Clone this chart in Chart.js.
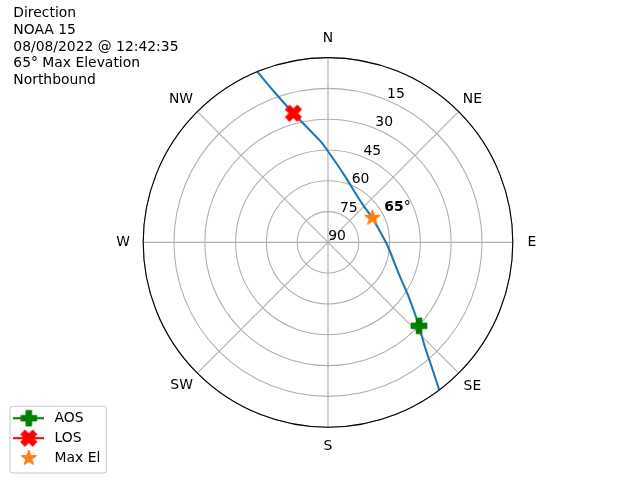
<!DOCTYPE html>
<html>
<head>
<meta charset="utf-8">
<script src="https://cdn.jsdelivr.net/npm/chart.js@4"></script>
<style>
  html, body { margin: 0; background: #fff; }
  #wrap { width: 640px; height: 480px; }
</style>
</head>
<body>
<div id="wrap"><canvas id="passChart"></canvas></div>
<script>
// Pass track: azimuth (deg, clockwise from N) and elevation (deg)
const trackAz = [337.3, 340.4, 344.8, 355.3, 0, 14.1, 33.7, 46.1, 61.2, 75.2, 93.2, 114.9, 123.7, 132.5, 136.9, 140.6, 143.1];
const trackEl = [0, 12.7, 24.9, 40.3, 45.6, 56.5, 63.6, 65.3, 65.3, 64.5, 61.0, 51.5, 43.2, 29.9, 21.0, 10.1, 0];
const aos = [132.5, 29.9];
const los = [344.8, 24.9];
const maxEl = [61.2, 65.3];
const compass = ["N", "NE", "E", "SE", "S", "SW", "W", "NW"];
const compassAz = [0, 45, 90, 135, 180, 225, 270, 315];
const elTicks = [90, 75, 60, 45, 30, 15];
const header = ["Direction", "NOAA 15", "08/08/2022 @ 12:42:35", "65° Max Elevation", "Northbound"];

const FONT = { family: "DejaVu Sans", size: 13.9 };
const FONT_CSS = '13.9px "DejaVu Sans"';

// radar with one spoke per half degree; index 0 sits at S so the pass never wraps round index 0
const STEPS = 720;
const idx = az => Math.round(((az + 180) % 360) * STEPS / 360) % STEPS;
function series(az, el) {
    const d = new Array(STEPS).fill(null);
    az.forEach((a, i) => { d[idx(a)] = el[i]; });
    return d;
}
const labels = new Array(STEPS).fill("");
compass.forEach((t, i) => { labels[idx(compassAz[i])] = t; });

// matplotlib-like filled markers drawn on small canvases
const SHAPES = {
    plus: [[-1, -3], [1, -3], [1, -1], [3, -1], [3, 1], [1, 1], [1, 3], [-1, 3], [-1, 1], [-3, 1], [-3, -1], [-1, -1]].map(p => [p[0] / 6, p[1] / 6]),
    x: [[-1, -2], [0, -1], [1, -2], [2, -1], [1, 0], [2, 1], [1, 2], [0, 1], [-1, 2], [-2, 1], [-1, 0], [-2, -1]].map(p => [p[0] / 4, p[1] / 4]),
    star: Array.from({ length: 10 }, (_, k) => {
        const a = -Math.PI / 2 + k * Math.PI / 5, r = k % 2 ? 0.5 * 0.381966 : 0.5;
        return [r * Math.cos(a), r * Math.sin(a)];
    })
};
function marker(shape, color, withLine) {
    const c = document.createElement("canvas");
    const w = withLine ? 31 : 20, h = 20, s = 15.3;
    c.width = w; c.height = h;
    const g = c.getContext("2d");
    g.translate(w / 2, h / 2);
    if (withLine) {
        g.strokeStyle = color; g.lineWidth = 2.1;
        g.beginPath(); g.moveTo(-w / 2, 0); g.lineTo(w / 2, 0); g.stroke();
    }
    g.fillStyle = color; g.strokeStyle = color; g.lineWidth = 1.4; g.lineJoin = "round";
    g.beginPath();
    SHAPES[shape].forEach((p, i) => i ? g.lineTo(p[0] * s, p[1] * s) : g.moveTo(p[0] * s, p[1] * s));
    g.closePath(); g.fill(); g.stroke();
    return c;
}
const dots = [marker("plus", "#008000"), marker("x", "#ff0000"), marker("star", "#ff7f0e")];
const legendIcons = [marker("plus", "#008000", true), marker("x", "#ff0000", true), marker("star", "#ff7f0e")];

// radar lines are always closed; the track is an open arc
const openTrack = {
    id: "openTrack",
    afterDatasetUpdate(chart, args) {
        const line = args.meta.dataset;
        if (line) {
            line._loop = false;
            line._fullLoop = false;
            delete line._segments;
            delete line._path;
        }
    }
};

const decorations = {
    id: "decorations",
    beforeDraw(chart) {
        // legend frame
        const hb = chart.legend.legendHitBoxes;
        if (!hb || !hb.length) return;
        const ctx = chart.ctx;
        const l = Math.min(...hb.map(b => b.left));
        const r = Math.max(...hb.map(b => b.left + b.width)) + 6;
        const t = hb[0].top - 5;
        const last = hb[hb.length - 1];
        const b = last.top + last.height + 8;
        ctx.save();
        ctx.beginPath();
        ctx.roundRect(l, t, r - l, b - t, 3);
        ctx.fillStyle = "rgba(255,255,255,0.8)";
        ctx.fill();
        ctx.strokeStyle = "#cccccc";
        ctx.lineWidth = 1.1;
        ctx.stroke();
        ctx.restore();
    },
    beforeDatasetsDraw(chart) {
        const ctx = chart.ctx, r = chart.scales.r;
        ctx.save();
        ctx.font = FONT_CSS;
        ctx.fillStyle = "#000";
        ctx.textAlign = "center";
        elTicks.forEach(v => {
            const p = r.getPointPositionForValue(idx(22.5), v);
            ctx.fillText(String(v), p.x + 9, p.y - 2.3);
        });
        ctx.restore();
    },
    afterDatasetsDraw(chart) {
        const ctx = chart.ctx, r = chart.scales.r;
        ctx.save();
        // outer spine
        ctx.beginPath();
        ctx.arc(r.xCenter, r.yCenter, r.drawingArea, 0, Math.PI * 2);
        ctx.strokeStyle = "#000";
        ctx.lineWidth = 1.1;
        ctx.stroke();
        // max elevation label
        const s = r.getPointPositionForValue(idx(maxEl[0]), maxEl[1]);
        const txt = String(Math.round(maxEl[1]));
        ctx.fillStyle = "#000";
        ctx.textAlign = "left";
        ctx.font = "bold " + FONT_CSS;
        ctx.fillText(txt, s.x + 12, s.y - 7.3);
        const w = ctx.measureText(txt).width;
        ctx.font = FONT_CSS;
        ctx.fillText("°", s.x + 12 + w, s.y - 7.3);
        ctx.restore();
    },
    afterDraw(chart) {
        const ctx = chart.ctx;
        ctx.save();
        ctx.font = FONT_CSS;
        ctx.fillStyle = "#000";
        ctx.textAlign = "left";
        header.forEach((t, i) => ctx.fillText(t, 13.3, 17.4 + i * 16.55));
        ctx.restore();
    }
};

const labelPad = { N: 11.2, S: 11.1, E: 14.6, W: 13.1, NE: 5.8, NW: 6, SE: 7, SW: 6.3 };

new Chart(document.getElementById("passChart"), {
    type: "radar",
    data: {
        labels: labels,
        datasets: [
            { label: "AOS", data: series([aos[0]], [aos[1]]), pointStyle: dots[0], pointRadius: 8, showLine: false },
            { label: "LOS", data: series([los[0]], [los[1]]), pointStyle: dots[1], pointRadius: 8, showLine: false },
            { label: "Max El", data: series([maxEl[0]], [maxEl[1]]), pointStyle: dots[2], pointRadius: 8, showLine: false },
            {
                label: "track", data: series(trackAz, trackEl),
                borderColor: "#1f77b4", borderWidth: 2.1, pointRadius: 0,
                spanGaps: true, fill: false, tension: 0.2
            }
        ]
    },
    options: {
        responsive: true,
        maintainAspectRatio: false,
        animation: false,
        events: [],
        layout: { padding: { left: 4, bottom: 9 } },
        scales: {
            r: {
                min: 0,
                max: 90,
                reverse: true,
                startAngle: 180,
                ticks: { display: false, stepSize: 15 },
                grid: { circular: true, color: "#b0b0b0", lineWidth: 1.1 },
                angleLines: { color: "#b0b0b0", lineWidth: c => c.label ? 1.1 : 0 },
                pointLabels: { color: "#000", font: FONT, padding: c => labelPad[c.label] || 0 },
                // same axes box as matplotlib's default subplot
                afterSetDimensions(scale) {
                    const W = scale.chart.width, H = scale.chart.height;
                    const x0 = 0.125 * W, x1 = 0.9 * W, y0 = 0.12 * H, y1 = 0.89 * H;
                    scale.xCenter = (x0 + x1) / 2;
                    scale.yCenter = (y0 + y1) / 2;
                    scale.drawingArea = Math.min(x1 - x0, y1 - y0) / 2;
                }
            }
        },
        plugins: {
            tooltip: { enabled: false },
            legend: {
                position: "left",
                align: "end",
                labels: {
                    usePointStyle: true,
                    pointStyleWidth: 37.6,
                    padding: 6,
                    font: FONT,
                    color: "#000",
                    generateLabels(chart) {
                        return Chart.defaults.plugins.legend.labels.generateLabels(chart)
                            .filter(it => it.datasetIndex < 3)
                            .map(it => Object.assign(it, { pointStyle: legendIcons[it.datasetIndex] }));
                    }
                }
            }
        }
    },
    plugins: [openTrack, decorations]
});
</script>
</body>
</html>
